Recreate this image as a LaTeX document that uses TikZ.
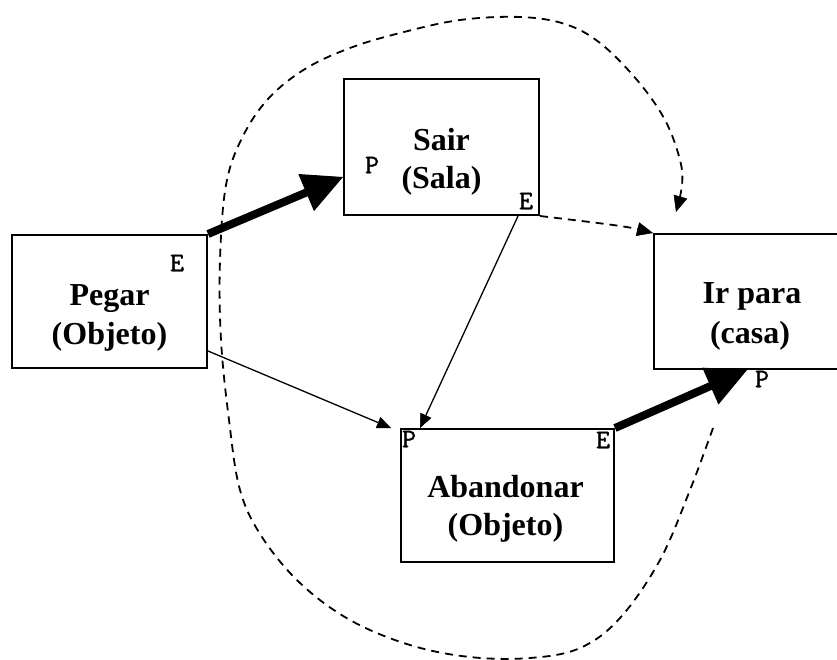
\documentclass[tikz,border=0pt]{standalone}
\usepackage{fontspec}
\setmainfont{Liberation Serif}
\newfontfamily\portfont[FakeBold=1.2]{Latin Modern Mono}
\usetikzlibrary{arrows.meta}
\begin{document}
\begin{tikzpicture}[x=1pt,y=-1pt,
  taskbox/.style={draw, line width=2pt, inner sep=0pt, rectangle},
  tasklabel/.style={font=\fontsize{32}{40}\selectfont\bfseries, inner sep=0pt, anchor=base},
  portmark/.style={font=\portfont\fontsize{27}{27}\selectfont, inner sep=0pt, anchor=center},
  strongarrow/.style={line width=8pt, -{Triangle[length=40pt,width=40pt,line width=1pt]}},
  weakarrow/.style={line width=1.3pt, -{Triangle[length=14pt,width=12pt,line width=0.5pt]}},
  condarrow/.style={line width=1.8pt, dash pattern=on 8pt off 6pt,
    -{Triangle[length=16pt,width=14pt,line width=0.5pt]}}]

\useasboundingbox (0,0) rectangle (837,659);
\fill[white] (0,0) rectangle (837,659);
\clip (0,0) rectangle (837,659);

% task boxes
\node[taskbox, minimum width=195pt, minimum height=133pt] (pegar) at (109.5,301.5) {};
\node[taskbox, minimum width=195pt, minimum height=136pt] (sair) at (441.5,147) {};
\node[taskbox, minimum width=196pt, minimum height=135pt] (irpara) at (752,301.5) {};
\node[taskbox, minimum width=213pt, minimum height=133pt] (aband) at (507.5,495.5) {};

% task names
\node[tasklabel] (pegarA) at (109.5,305) {Pegar};
\node[tasklabel] (pegarB) at (109.5,344) {(Objeto)};
\node[tasklabel] (sairA) at (441.5,150) {Sair};
\node[tasklabel] (sairB) at (441.5,188) {(Sala)};
\node[tasklabel] (irA) at (752,303) {Ir para};
\node[tasklabel] (irB) at (750,343) {(casa)};
\node[tasklabel] (abandA) at (505.5,497) {Abandonar};
\node[tasklabel] (abandB) at (505.5,535) {(Objeto)};

% entry / exit ports
\node[portmark] (pegarE) at (177,263) {E};
\node[portmark] (sairP) at (372,165) {P};
\node[portmark] (sairE) at (526,201) {E};
\node[portmark] (irP) at (762,379) {P};
\node[portmark] (abandP) at (409,439) {P};
\node[portmark] (abandE) at (603,440) {E};

% strong precedence
\draw[strongarrow] (pegar.north east) -- ([yshift=-30pt]sair.west);
\draw[strongarrow] (aband.north east) -- ([xshift=94pt]irpara.south west);

% weak precedence
\draw[weakarrow] ([yshift=18pt]pegar.south east) -- ([xshift=-9pt]aband.north west);
\draw[weakarrow] ([xshift=-22pt]sair.south east) -- ([xshift=20pt]aband.north west);

% conditional links
\draw[condarrow] (sair.south east) .. controls (590,222) and (625,226) .. (irpara.north west);

\coordinate (loopS) at (713,428);
\coordinate (loopE) at (676,212);
\draw[condarrow] plot[smooth, tension=0.6] coordinates {
  (loopS) (690,490) (660,560) (620,618) (580,648) (530,658) (470,657)
  (410,645) (350,620) (300,583) (262,537) (240,490) (229,420) (221,340)
  (220,260) (226,185) (242,138) (268,99) (305,69) (350,48) (400,33)
  (460,20) (520,17) (565,24) (600,43) (637,80) (665,120) (680,160)
  (682,185) (loopE)};
\end{tikzpicture}
\end{document}
